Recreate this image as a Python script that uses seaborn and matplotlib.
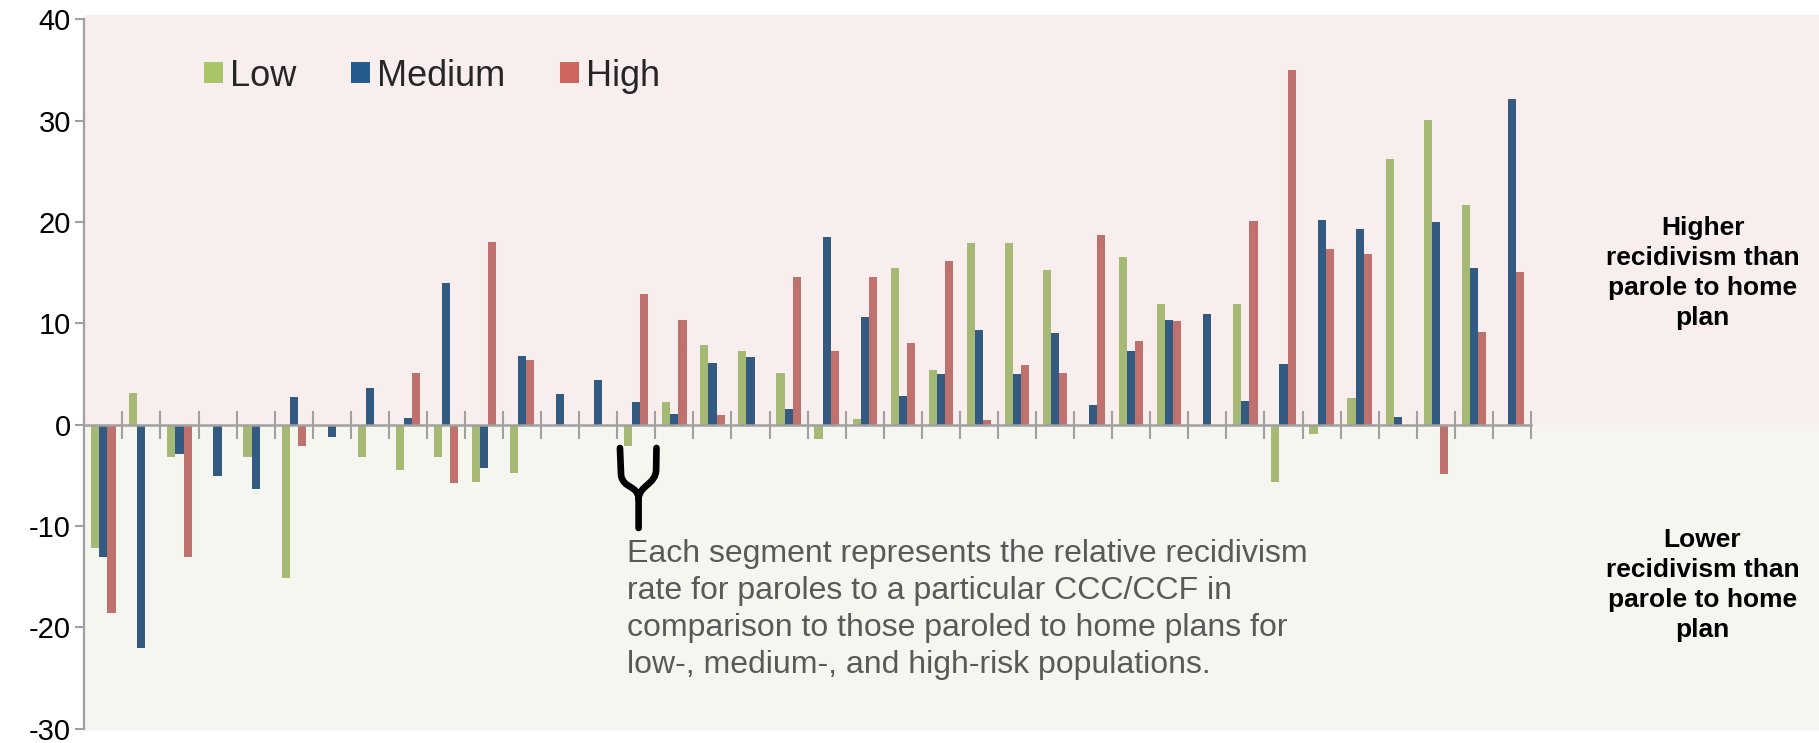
import numpy as np
import pandas as pd
import matplotlib
matplotlib.use("Agg")
import matplotlib.pyplot as plt
import seaborn as sns
from matplotlib.patches import Patch
from matplotlib.path import Path
from matplotlib.patches import PathPatch

# ---------------- data ----------------
categories = list(range(1, 39))
low = [-12.2, 3.1, -3.2, 0, -3.2, -15.1, 0, -3.2, -4.5, -3.2, -5.7, -4.8, 0, 0, -2.1, 2.2, 7.9, 7.3, 5.1, -1.4,
       0.6, 15.5, 5.4, 17.9, 17.9, 15.3, 0, 16.6, 11.9, 0, 11.9, -5.7, -0.9, 2.6, 26.2, 30.1, 21.7, 0]
medium = [-13.1, -22.0, -2.9, -5.1, -6.4, 2.7, -1.2, 3.6, 0.7, 14.0, -4.3, 6.8, 3.0, 4.4, 2.2, 1.1, 6.1, 6.7, 1.5, 18.5,
          10.6, 2.8, 5.0, 9.3, 5.0, 9.0, 1.9, 7.3, 10.3, 10.9, 2.3, 6.0, 20.2, 19.3, 0.8, 20.0, 15.5, 32.1]
high = [-18.6, 0, -13.1, 0, 0, -2.1, 0, 0, 5.1, -5.8, 18.0, 6.4, 0, 0, 12.9, 10.3, 1.0, 0, 14.6, 7.3,
        14.6, 8.1, 16.2, 0.5, 5.9, 5.1, 18.7, 8.3, 10.2, 0, 20.1, 35.0, 17.3, 16.8, 0, -4.9, 9.1, 15.1]
series_names = ["Low", "Medium", "High"]
yticks = [-30, -20, -10, 0, 10, 20, 30, 40]
annotation = ("Each segment represents the relative recidivism\n"
              "rate for paroles to a particular CCC/CCF in\n"
              "comparison to those paroled to home plans for\n"
              "low-, medium-, and high-risk populations.")
higher_text = "Higher\nrecidivism than\nparole to home\nplan"
lower_text = "Lower\nrecidivism than\nparole to home\nplan"

colors = {"Low": "#AAC46A", "Medium": "#265B8E", "High": "#CD655F"}

df = pd.DataFrame({
    "cat": categories * 3,
    "value": low + medium + high,
    "risk": ["Low"] * 38 + ["Medium"] * 38 + ["High"] * 38,
})

# ---------------- figure ----------------
sns.set_style("white")
plt.rcParams["font.family"] = ["Liberation Sans", "DejaVu Sans"]

W, H = 1819, 743
fig = plt.figure(figsize=(W / 100, H / 100), dpi=100)
ax_left = 84.3 / W
ax = fig.add_axes([ax_left, 0.01669, 1 - ax_left, 0.96258])

ax.axhspan(0, 40.4, color="#F9EEEE", zorder=0, lw=0)
ax.axhspan(-30.2, 0, color="#F6F6F1", zorder=0, lw=0)

sns.barplot(data=df, x="cat", y="value", hue="risk", hue_order=series_names,
            palette=colors, width=0.64, dodge=True, gap=0, linewidth=0,
            legend=False, ax=ax, zorder=2)

n = len(categories)
x_right = -0.5 + (W - 84.3) / 38.07
ax.set_xlim(-0.5, x_right)
ax.set_ylim(-30.2, 40.4)

for s in ["top", "right"]:
    ax.spines[s].set_visible(False)
ax.spines["left"].set_color("#A0A0A0")
ax.spines["left"].set_linewidth(1.6)
ax.spines["left"].set_bounds(-30, 40)
ax.spines["bottom"].set_position(("data", 0))
ax.spines["bottom"].set_color("#A0A0A0")
ax.spines["bottom"].set_linewidth(1.8)
ax.spines["bottom"].set_bounds(-0.5, n - 0.5)
ax.spines["bottom"].set_zorder(3)

ax.set_xticks(np.arange(0.5, n, 1))
ax.set_xticklabels([])
ax.tick_params(axis="x", direction="inout", length=20, width=1.5, color="#A0A0A0", bottom=True)
ax.set_yticks(yticks)
ax.set_yticklabels([str(t) for t in yticks])
ax.tick_params(axis="y", direction="out", length=6.5, width=1.5, color="#A0A0A0", left=True,
               labelsize=21, labelcolor="black", pad=3)
ax.set_xlabel("")
ax.set_ylabel("")
ax.grid(False)

# legend
handles = [Patch(facecolor=colors[s], edgecolor="none", label=s) for s in series_names]
fig.legend(handles=handles, loc="center left", bbox_to_anchor=(204 / W, 1 - 76 / H),
           ncol=3, frameon=False, fontsize=26, handlelength=0.53, handleheight=0.53,
           handletextpad=0.2, columnspacing=1.5, borderpad=0, borderaxespad=0)

# brace around one segment
verts = [(13.57, -2.3), (13.6, -5.0), (13.65, -6.3), (14.05, -6.0), (14.06, -7.3), (14.06, -10.2),
         (14.53, -2.3), (14.52, -4.5), (14.5, -5.9), (14.08, -6.0), (14.06, -7.3)]
codes = [Path.MOVETO, Path.LINETO, Path.CURVE4, Path.CURVE4, Path.CURVE4, Path.LINETO,
         Path.MOVETO, Path.LINETO, Path.CURVE4, Path.CURVE4, Path.CURVE4]
ax.add_patch(PathPatch(Path(verts, codes), facecolor="none", edgecolor="black",
                       lw=4.8, capstyle="round", joinstyle="round", zorder=4))

# annotation
fig.text(627 / W, 1 - 539 / H, annotation, ha="left", va="top", fontsize=23,
         color="#595959", linespacing=1.3)

fig.text(1702.5 / W, 1 - 273 / H, higher_text, ha="center", va="center", fontsize=19,
         fontweight="bold", color="black", multialignment="center", linespacing=1.31)
fig.text(1702.5 / W, 1 - 585 / H, lower_text, ha="center", va="center", fontsize=19,
         fontweight="bold", color="black", multialignment="center", linespacing=1.31)

fig.savefig("out.png", dpi=100, facecolor="white")
